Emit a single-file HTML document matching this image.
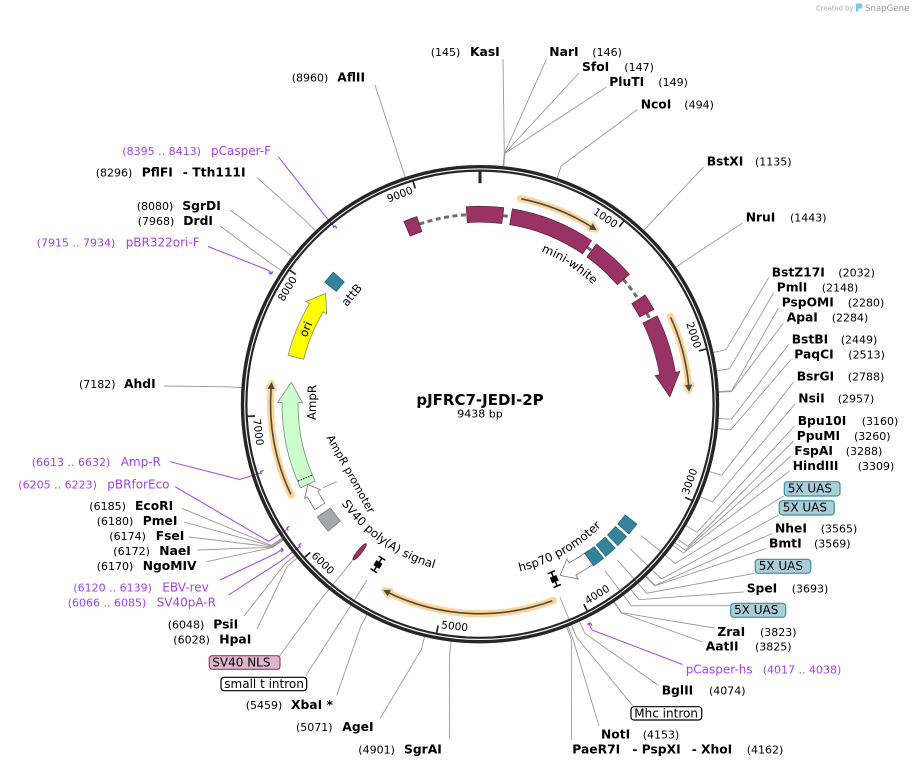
<!DOCTYPE html>
<html><head><meta charset="utf-8"><title>pJFRC7-JEDI-2P</title>
<style>
html,body{margin:0;padding:0;background:#fff;width:914px;height:768px;overflow:hidden}
svg{display:block}
text{font-family:"DejaVu Sans","Liberation Sans",sans-serif;fill:#000}
.n{font-weight:bold;font-size:12.3px}
.p{font-size:11px}
.pn{font-size:12px;fill:#A340F0}
.pp{font-size:11px;fill:#A340F0}
.b{font-size:12px}
.tk{font-size:10.5px}
.fl{font-size:11.8px}
</style></head><body>
<svg id="svg" width="914" height="768" viewBox="0 0 914 768" xmlns="http://www.w3.org/2000/svg">
<defs>
<path id="pMW" d="M0 0"/><path id="pSV" d="M0 0"/><path id="pHS" d="M0 0"/>
</defs>
<g id="gl"></g>
<circle cx="480" cy="404.2" r="237.5" fill="none" stroke="#262626" stroke-width="3.4"/>
<circle cx="480" cy="404.2" r="233.6" fill="none" stroke="#262626" stroke-width="2.2"/>
<g id="gf"></g>

<!-- logo -->
<text x="816" y="10.5" font-size="6.8" style="fill:#a8a8a8">Created by</text>
<path d="M856 3.5 h5 q1.5 0 1.5 1.5 v2 q0 1.5 -1.5 1.5 h-2.5 v3 h-2.5 z" fill="#7cc7ea"/>
<text x="865" y="11" font-size="8.6" style="fill:#9a9a9a">SnapGene</text>

<!-- center -->
<text x="480" y="405" text-anchor="middle" font-weight="bold" font-size="15">pJFRC7-JEDI-2P</text>
<text x="480" y="417.5" text-anchor="middle" font-size="11">9438 bp</text>

<!-- tick labels -->
<text id="t1" class="tk" text-anchor="middle" dominant-baseline="central">1000</text>
<text id="t2" class="tk" text-anchor="middle" dominant-baseline="central">2000</text>
<text id="t3" class="tk" text-anchor="middle" dominant-baseline="central">3000</text>
<text id="t4" class="tk" text-anchor="middle" dominant-baseline="central">4000</text>
<text id="t5" class="tk" text-anchor="middle" dominant-baseline="central">5000</text>
<text id="t6" class="tk" text-anchor="middle" dominant-baseline="central">6000</text>
<text id="t7" class="tk" text-anchor="middle" dominant-baseline="central">7000</text>
<text id="t8" class="tk" text-anchor="middle" dominant-baseline="central">8000</text>
<text id="t9" class="tk" text-anchor="middle" dominant-baseline="central">9000</text>

<!-- feature labels inside -->
<text class="fl"><textPath href="#pMW" startOffset="50%" text-anchor="middle">mini-white</textPath></text>
<text class="fl"><textPath href="#pSV" startOffset="50%" text-anchor="middle">SV40 poly(A) signal</textPath></text>
<text class="fl" font-size="11.5"><textPath href="#pHS" startOffset="50%" text-anchor="middle">hsp70 promoter</textPath></text>
<text x="305.8" y="329.2" transform="rotate(-66.5 305.8 329.2)" text-anchor="middle" dominant-baseline="central" class="fl">ori</text>
<text x="351.7" y="295" transform="rotate(-50 351.7 295)" text-anchor="middle" dominant-baseline="central" class="fl">attB</text>
<text x="312" y="402.5" transform="rotate(-89.3 312 402.5)" text-anchor="middle" dominant-baseline="central" class="fl">AmpR</text>
<text x="350.5" y="474" transform="rotate(61 350.5 474)" text-anchor="middle" dominant-baseline="central" font-size="11">AmpR promoter</text>

<!-- right side labels -->
<text class="n" x="549.3" y="56">NarI</text><text class="p" x="592.3" y="56">(146)</text>
<text class="n" x="582" y="71">SfoI</text><text class="p" x="624.3" y="71">(147)</text>
<text class="n" x="609.3" y="86">PluTI</text><text class="p" x="658.3" y="86">(149)</text>
<text class="n" x="640.7" y="108.3">NcoI</text><text class="p" x="684.3" y="108.3">(494)</text>
<text class="n" x="706.7" y="165.7">BstXI</text><text class="p" x="755" y="165.7">(1135)</text>
<text class="n" x="745.7" y="221.7">NruI</text><text class="p" x="790" y="221.7">(1443)</text>
<text class="n" x="771.7" y="276.7">BstZ17I</text><text class="p" x="838.3" y="276.7">(2032)</text>
<text class="n" x="776.7" y="291.7">PmlI</text><text class="p" x="821.7" y="291.7">(2148)</text>
<text class="n" x="781.7" y="306.7">PspOMI</text><text class="p" x="847.7" y="306.7">(2280)</text>
<text class="n" x="786.7" y="321.7">ApaI</text><text class="p" x="831.7" y="321.7">(2284)</text>
<text class="n" x="791.7" y="343.3">BstBI</text><text class="p" x="840.7" y="343.3">(2449)</text>
<text class="n" x="794.3" y="358.3">PaqCI</text><text class="p" x="848.3" y="358.3">(2513)</text>
<text class="n" x="796.7" y="380.7">BsrGI</text><text class="p" x="847.7" y="380.7">(2788)</text>
<text class="n" x="798.3" y="402.7">NsiI</text><text class="p" x="837.7" y="402.7">(2957)</text>
<text class="n" x="797.7" y="425">Bpu10I</text><text class="p" x="861.7" y="425">(3160)</text>
<text class="n" x="796.7" y="440">PpuMI</text><text class="p" x="854" y="440">(3260)</text>
<text class="n" x="794.3" y="455">FspAI</text><text class="p" x="845.7" y="455">(3288)</text>
<text class="n" x="792.7" y="470">HindIII</text><text class="p" x="857.7" y="470">(3309)</text>
<text class="n" x="775" y="532.7">NheI</text><text class="p" x="820.7" y="532.7">(3565)</text>
<text class="n" x="769" y="547.7">BmtI</text><text class="p" x="814" y="547.7">(3569)</text>
<text class="n" x="746.7" y="592.3">SpeI</text><text class="p" x="791.7" y="592.3">(3693)</text>
<text class="n" x="717.3" y="636">ZraI</text><text class="p" x="760" y="636">(3823)</text>
<text class="n" x="705.7" y="650.7">AatII</text><text class="p" x="755" y="650.7">(3825)</text>
<text class="pn" x="685.7" y="673.3">pCasper-hs</text><text class="pp" x="762.7" y="673.3">(4017 .. 4038)</text>
<text class="n" x="661.7" y="694.3">BglII</text><text class="p" x="709" y="694.3">(4074)</text>
<text class="n" x="601" y="738.3">NotI</text><text class="p" x="642.7" y="738.3">(4153)</text>
<text class="n" x="572.3" y="753.3">PaeR7I</text><text class="n" x="632.3" y="753.3">-</text><text class="n" x="641.7" y="753.3">PspXI</text><text class="n" x="691.7" y="753.3">-</text><text class="n" x="701" y="753.3">XhoI</text><text class="p" x="746.7" y="753.3">(4162)</text>

<!-- left side labels -->
<text class="p" x="430.7" y="56">(145)</text><text class="n" x="470" y="56">KasI</text>
<text class="p" x="291.7" y="81.7">(8960)</text><text class="n" x="337.3" y="81.7">AflII</text>
<text class="pp" x="122.3" y="155">(8395 .. 8413)</text><text class="pn" x="211" y="155">pCasper-F</text>
<text class="p" x="95.7" y="176.7">(8296)</text><text class="n" x="141.7" y="176.7">PflFI</text><text class="n" x="182.7" y="176.7">-</text><text class="n" x="192.3" y="176.7">Tth111I</text>
<text class="p" x="136.7" y="210">(8080)</text><text class="n" x="182.3" y="210">SgrDI</text>
<text class="p" x="137.7" y="225">(7968)</text><text class="n" x="183.3" y="225">DrdI</text>
<text class="pp" x="36.7" y="246.7">(7915 .. 7934)</text><text class="pn" x="125.7" y="246.7">pBR322ori-F</text>
<text class="p" x="79" y="388">(7182)</text><text class="n" x="124" y="388">AhdI</text>
<text class="pp" x="31.7" y="466">(6613 .. 6632)</text><text class="pn" x="120.7" y="466">Amp-R</text>
<text class="pp" x="18.3" y="488.3">(6205 .. 6223)</text><text class="pn" x="107.3" y="488.3">pBRforEco</text>
<text class="p" x="89.3" y="510">(6185)</text><text class="n" x="135" y="510">EcoRI</text>
<text class="p" x="96.7" y="525">(6180)</text><text class="n" x="142.7" y="525">PmeI</text>
<text class="p" x="109.3" y="540">(6174)</text><text class="n" x="155.7" y="540">FseI</text>
<text class="p" x="113.3" y="555">(6172)</text><text class="n" x="159.3" y="555">NaeI</text>
<text class="p" x="96.7" y="570">(6170)</text><text class="n" x="142.7" y="570">NgoMIV</text>
<text class="pp" x="73.3" y="591.7">(6120 .. 6139)</text><text class="pn" x="162.3" y="591.7">EBV-rev</text>
<text class="pp" x="67.7" y="606.7">(6066 .. 6085)</text><text class="pn" x="156.7" y="606.7">SV40pA-R</text>
<text class="p" x="167.7" y="628.3">(6048)</text><text class="n" x="213.3" y="628.3">PsiI</text>
<text class="p" x="173.3" y="643.3">(6028)</text><text class="n" x="219.3" y="643.3">HpaI</text>
<text class="p" x="245.7" y="709">(5459)</text><text class="n" x="291" y="709">XbaI *</text>
<text class="p" x="296" y="731">(5071)</text><text class="n" x="342.3" y="731">AgeI</text>
<text class="p" x="358.3" y="753.3">(4901)</text><text class="n" x="404" y="753.3">SgrAI</text>

<!-- boxed feature labels -->
<rect x="784.3" y="481.7" width="55.7" height="14.3" rx="3" fill="#A9CED8" stroke="#3E8FA5" stroke-width="1.2"/>
<text class="b" x="787.7" y="492.5">5X UAS</text>
<rect x="779.3" y="500.7" width="55" height="14.3" rx="3" fill="#A9CED8" stroke="#3E8FA5" stroke-width="1.2"/>
<text class="b" x="782.7" y="511.5">5X UAS</text>
<rect x="755.3" y="559.3" width="55.4" height="14" rx="3" fill="#A9CED8" stroke="#3E8FA5" stroke-width="1.2"/>
<text class="b" x="758.7" y="570">5X UAS</text>
<rect x="730.7" y="603.3" width="55" height="14" rx="3" fill="#A9CED8" stroke="#3E8FA5" stroke-width="1.2"/>
<text class="b" x="734.1" y="614">5X UAS</text>
<rect x="631" y="706.7" width="70.7" height="13.3" rx="3" fill="#fff" stroke="#000" stroke-width="1.2"/>
<text class="b" x="634.3" y="717.3">Mhc intron</text>
<rect x="209.3" y="655.7" width="70.7" height="13.6" rx="3" fill="#DDB6CB" stroke="#9B3D6C" stroke-width="1.2"/>
<text class="b" x="212.3" y="666.3">SV40 NLS</text>
<rect x="221" y="677.3" width="85.7" height="13.4" rx="3" fill="#fff" stroke="#000" stroke-width="1.2"/>
<text class="b" x="224.3" y="688">small t intron</text>
</svg>
<script>
(function(){
const CX=480,CY=404.2,NS='http://www.w3.org/2000/svg';
function P(r,a){const t=a*Math.PI/180;return [CX+r*Math.sin(t),CY-r*Math.cos(t)];}
function f(p){return p[0].toFixed(2)+' '+p[1].toFixed(2);}
function arcD(r,a1,a2){const L=Math.abs(a2-a1)>180?1:0,s=a2>a1?1:0;return 'M'+f(P(r,a1))+'A'+r+' '+r+' 0 '+L+' '+s+' '+f(P(r,a2));}
function band(r1,r2,a1,a2){const L=(a2-a1)>180?1:0;return 'M'+f(P(r2,a1))+'A'+r2+' '+r2+' 0 '+L+' 1 '+f(P(r2,a2))+'L'+f(P(r1,a2))+'A'+r1+' '+r1+' 0 '+L+' 0 '+f(P(r1,a1))+'Z';}
function arrow(R,w,hw,a1,ah,a2){return 'M'+f(P(R+w,a1))+'A'+(R+w)+' '+(R+w)+' 0 0 1 '+f(P(R+w,ah))+'L'+f(P(R+hw,ah))+'L'+f(P(R,a2))+'L'+f(P(R-hw,ah))+'L'+f(P(R-w,ah))+'A'+(R-w)+' '+(R-w)+' 0 0 0 '+f(P(R-w,a1))+'Z';}
function add(g,tag,at){const e=document.createElementNS(NS,tag);for(const k in at)e.setAttribute(k,at[k]);g.appendChild(e);return e;}
function pl(pts){return 'M'+pts.map(f).join('L');}
const gl=document.getElementById('gl'),gf=document.getElementById('gf');
const RE=252,RR=239.2,LC='#9a9a9a',PC='#A340F0';

const enz=[[5.531,503,59],[5.569,546.5,59],[5.607,579,73],[5.683,606.5,87],[18.843,637.5,109.5],[43.293,703.5,167],[55.041,742.5,223],[77.508,768.5,278],[81.933,773.5,293],[86.968,778.5,308],[87.120,783.5,323],[93.414,788.5,344.5],[95.855,791,359.5],[106.345,793.5,382],[112.791,795,404],[120.534,794.5,426],[124.348,793.5,441],[125.416,791,456],[126.217,789.5,471],[135.982,772,533.5],[136.135,766,548.5],[140.865,743.5,592],[145.823,714.5,628],[145.900,702.5,642],[155.40,658.5,685.5],[158.41,599,726],[158.76,571.5,740],[186.94,449.5,739],[193.43,380,718.5],[208.23,336.7,695.5],[229.93,257,629],[230.69,244,616],[235.35,206.7,561.7],[235.42,197,550],[235.50,189,537],[235.73,184,522],[235.92,181.7,508.3],[273.95,164,386],[303.93,220,226],[308.20,230,210],[316.44,256.7,177.3],[341.77,375,85]];
enz.forEach(e=>add(gl,'path',{d:pl([P(RR,e[0]),P(RE,e[0]),[e[1],e[2]]]),fill:'none',stroke:LC,'stroke-width':0.9}));

const fl=[[129.2,208,783.5,496],[133.9,208,778.5,515],[138.6,208,754.5,573.3],[143.1,208,729.9,605.7],[157.5,209,632.5,705.5],[212.7,209,306,675.5],[219.2,202,279.5,656]];
fl.forEach(e=>add(gl,'path',{d:pl([P(e[1],e[0]),P(RE,e[0]),[e[2],e[3]]]),fill:'none',stroke:LC,'stroke-width':0.9}));
add(gl,'path',{d:'M323.3 487.7L336.7 481.7',stroke:LC,'stroke-width':0.9,fill:'none'});

const pr=[[153.22,154.02,245,682.5,664.5],[231.38,232.10,229.5,228.5,595],[233.44,234.17,245,220,580],[236.68,237.37,229.5,175,486.7],[252.24,252.97,229.5,170,461.7],[301.91,302.63,246,208,246.5],[320.22,320.91,230,278.3,156.7]];
pr.forEach(e=>{const m=(e[0]+e[1])/2;add(gl,'path',{d:pl([P(e[2],m),P(RE,m),[e[3],e[4]]]),fill:'none',stroke:PC,'stroke-width':1});});

// ticks
add(gf,'path',{d:pl([P(232.6,0),P(221,0)]),stroke:'#262626','stroke-width':3});
for(let k=1;k<=9;k++){const th=k*1000/9438*360;add(gf,'path',{d:pl([P(232.6,th),P(225.3,th)]),stroke:'#262626','stroke-width':1.7});
 const ph=th-4.2,p=P(224,ph),rot=(th>90&&th<270)?ph-180:ph,t=document.getElementById('t'+k);
 t.setAttribute('x',p[0].toFixed(2));t.setAttribute('y',p[1].toFixed(2));t.setAttribute('transform','rotate('+rot.toFixed(2)+' '+p[0].toFixed(2)+' '+p[1].toFixed(2)+')');}

// primer marks
pr.forEach(e=>{const out=e[2]>239;add(gf,'path',{d:arcD(e[2],e[0],e[1]),fill:'none',stroke:PC,'stroke-width':1.4});
 const a=out?e[0]:e[1];add(gf,'path',{d:pl([P(e[2],a),P(out?e[2]+3:e[2]-3,a)]),stroke:PC,'stroke-width':1.4});});

// orange arrows
const OR=209.5;
[[11.06,33.85],[65.2,86.6],[244.2,276.1],[159.5,207.55]].forEach(o=>{
 const d=7/OR*180/Math.PI,a1=o[0],a2=o[1],ab=a2-d;
 add(gf,'path',{d:arcD(OR,a1,ab),fill:'none',stroke:'#FDD596','stroke-width':7,'stroke-linecap':'round'});
 const tri=[P(OR,a2),P(OR+3.6,ab),P(OR-3.6,ab)];
 add(gf,'path',{d:pl(tri)+'Z',fill:'#FDD596',stroke:'#FDD596','stroke-width':4.5,'stroke-linejoin':'round'});
 add(gf,'path',{d:arcD(OR,a1+0.3,ab+0.3),fill:'none',stroke:'#4a4a4a','stroke-width':1.6});
 add(gf,'path',{d:pl(tri)+'Z',fill:'#4a4a4a'});
});

// mini-white
[[341.4,356],[6.9,9.4],[34.3,36],[49,56.5],[61.4,63.5]].forEach(s=>add(gf,'path',{d:arcD(190,s[0],s[1]),fill:'none',stroke:'#6e6e6e','stroke-width':3,'stroke-dasharray':'5 3.5'}));
const MW='#993366',MWS='#5e2040';
[[337.4,341.4],[356,366.9],[9.4,34.3],[36,49],[56.5,61.4]].forEach(s=>add(gf,'path',{d:band(182,198,s[0],s[1]),fill:MW,stroke:MWS,'stroke-width':0.7}));
add(gf,'path',{d:arrow(190,8,12.5,63.5,80.7,87.8),fill:MW,stroke:MWS,'stroke-width':0.7});

// hsp70 promoter arrow (under UAS boxes)
add(gf,'path',{d:arrow(189,7,11.5,143.5,150.7,154.9),fill:'#fff',stroke:'#777','stroke-width':0.8});
// teal
[[127.35,131.05],[132.05,135.75],[136.75,140.45],[141.25,144.95],[308.1,312]].forEach(s=>add(gf,'path',{d:band(182.5,197.5,s[0],s[1]),fill:'#31849B',stroke:'#1f5f70','stroke-width':0.6}));
// grey square
add(gf,'path',{d:band(182,198,230.1,235.3),fill:'#A4A7AB',stroke:'#6f7276','stroke-width':0.7});
// ori
add(gf,'path',{d:arrow(190,8,12,284.3,300.5,305.7),fill:'#ffff00',stroke:'#8a8a6a','stroke-width':0.8});
// AmpR
add(gf,'path',{d:arrow(190,8,12.5,245,270.5,276.6),fill:'#ccffcc',stroke:'#7a8a7a','stroke-width':0.8});
add(gf,'path',{d:pl([P(182.5,247.1),P(197.5,247.1)]),stroke:'#000','stroke-width':0.9,'stroke-dasharray':'1.5 1.2'});
// AmpR promoter
add(gf,'path',{d:arrow(190,6,9,237.5,241.8,245),fill:'#fff',stroke:'#777','stroke-width':0.8});
// SV40 NLS small feature
(function(){const c=P(190.5,219.2);add(gf,'ellipse',{cx:c[0].toFixed(2),cy:c[1].toFixed(2),rx:2.2,ry:10.5,fill:MW,stroke:MWS,'stroke-width':0.7,transform:'rotate(219.2 '+c[0].toFixed(2)+' '+c[1].toFixed(2)+')'});})();
// I-beams
[212.5,157].forEach(a=>{const c=P(190,a);const g=add(gf,'g',{transform:'translate('+c[0].toFixed(2)+' '+c[1].toFixed(2)+') rotate('+a+')'});
 add(g,'path',{d:'M0 -7.5L0 7.5M-4 -7.5L4 -7.5M-4 7.5L4 7.5',stroke:'#000','stroke-width':1.5,fill:'none'});
 add(g,'rect',{x:-3.5,y:-3,width:7,height:6,fill:'#000'});});

// text paths
document.getElementById('pMW').setAttribute('d',arcD(164.5,32.6-80,32.6+80));
document.getElementById('pSV').setAttribute('d',arcD(170.5,215+80,215-80));
document.getElementById('pHS').setAttribute('d',arcD(172,150.9+80,150.9-80));
})();
</script>
</body></html>
